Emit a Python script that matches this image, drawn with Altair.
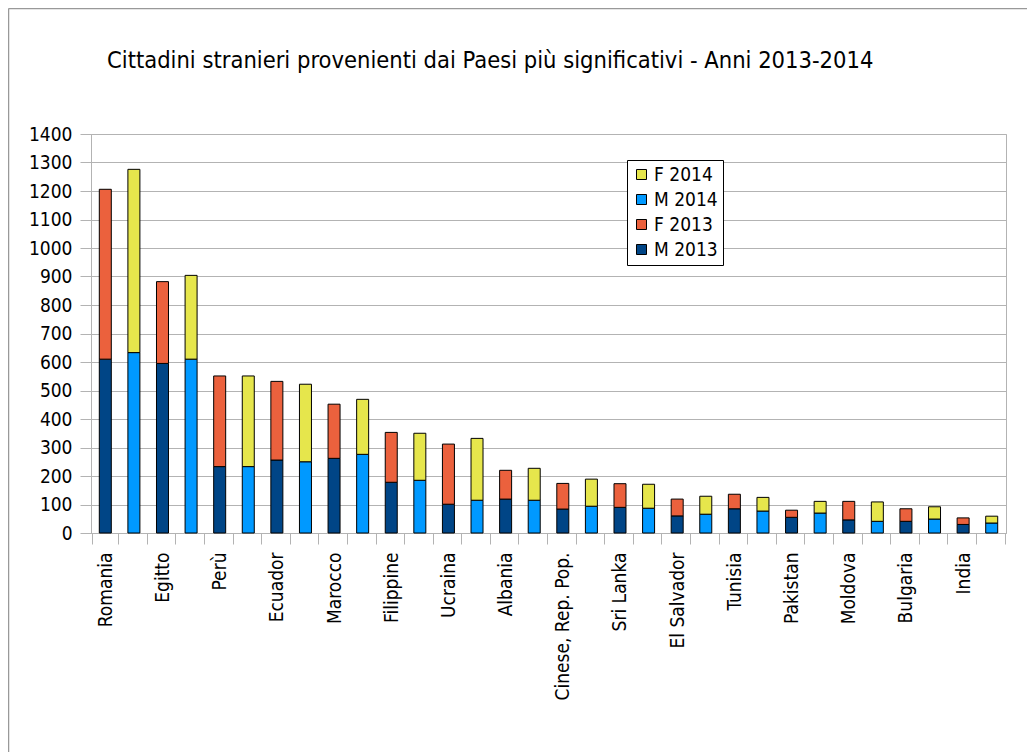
import altair as alt
import pandas as pd

countries = ["Romania", "Egitto", "Perù", "Ecuador", "Marocco", "Filippine", "Ucraina",
             "Albania", "Cinese, Rep. Pop.", "Sri Lanka", "El Salvador", "Tunisia",
             "Pakistan", "Moldova", "Bulgaria", "India"]
m2013 = [610, 595, 233, 256, 262, 178, 101, 119, 84, 90, 60, 85, 55, 46, 41, 30]
f2013 = [596, 287, 318, 276, 190, 175, 211, 101, 90, 83, 59, 51, 25, 65, 44, 23]
m2014 = [633, 610, 233, 250, 276, 185, 115, 115, 94, 87, 66, 77, 70, 41, 49, 35]
f2014 = [643, 294, 318, 272, 193, 165, 217, 112, 95, 84, 63, 48, 41, 68, 43, 24]
series_names = ["F 2014", "M 2014", "F 2013", "M 2013"]
series_colors = ["#e6e64c", "#0099ff", "#eb613d", "#004586"]
y_ticks = list(range(0, 1401, 100))
title_text = "Cittadini stranieri provenienti dai Paesi più significativi - Anni 2013-2014"

rows = []
keys = []
for i, c in enumerate(countries):
    for year, mv, fv in (("2013", m2013[i], f2013[i]), ("2014", m2014[i], f2014[i])):
        k = f"{c}|{year}"
        keys.append(k)
        rows.append({"key": k, "serie": f"M {year}", "ord": 0, "value": mv})
        rows.append({"key": k, "serie": f"F {year}", "ord": 1, "value": fv})
df = pd.DataFrame(rows)
one = pd.DataFrame({"t": [title_text]})

FONT = "DejaVu Sans Condensed, DejaVu Sans"
GRID = "#b3b3b3"

bars = alt.Chart(df).mark_bar(size=12, stroke="black", strokeWidth=1).encode(
    x=alt.X("key:N", sort=keys, title=None,
            axis=alt.Axis(labelExpr="split(datum.label,'|')[1]=='2013' ? split(datum.label,'|')[0] : ''",
                          labelAngle=-90, labelAlign="right", labelBaseline="middle",
                          labelOverlap=False, tickBand="extent", tickSize=11, tickColor=GRID,
                          domainColor=GRID, labelPadding=8, labelFont=FONT, labelFontSize=19,
                          labelColor="black", grid=False, labelLimit=300)),
    y=alt.Y("value:Q", stack="zero", title=None,
            scale=alt.Scale(domain=[0, 1400], nice=False),
            axis=alt.Axis(values=y_ticks, format="d", tickSize=11, tickColor=GRID, domainColor=GRID,
                          gridColor=GRID, labelPadding=8, labelFont=FONT, labelFontSize=19,
                          labelColor="black")),
    color=alt.Color("serie:N", scale=alt.Scale(domain=series_names, range=series_colors),
                    legend=alt.Legend(title=None, orient="none", legendX=536, legendY=26,
                                      strokeColor="black", fillColor="white", padding=5,
                                      symbolType="square", symbolSize=100,
                                      symbolStrokeColor="black", symbolStrokeWidth=1,
                                      labelFont=FONT, labelFontSize=19, labelColor="black",
                                      labelOffset=3, rowPadding=5)),
    order=alt.Order("ord:Q"),
)

frame_left = alt.Chart(one).mark_rule(color="#999999", strokeWidth=1.5).encode(
    x=alt.value(-82.5), y=alt.value(-125.5), y2=alt.value(700))
frame_top = alt.Chart(one).mark_rule(color="#999999", strokeWidth=1.5).encode(
    x=alt.value(-82.5), x2=alt.value(1000), y=alt.value(-125.5))
title = alt.Chart(one).mark_text(align="left", baseline="alphabetic", font=FONT, fontSize=23.5,
                                 color="black").encode(
    x=alt.value(16), y=alt.value(-66), text="t:N")

chart = alt.layer(bars, frame_left, frame_top, title).properties(
    width=915, height=399,
    autosize="none",
    padding={"left": 83, "top": 126, "right": 21, "bottom": 219},
).configure_view(stroke=GRID)

chart.save("out.html", embed_options={"renderer": "svg", "actions": False})
